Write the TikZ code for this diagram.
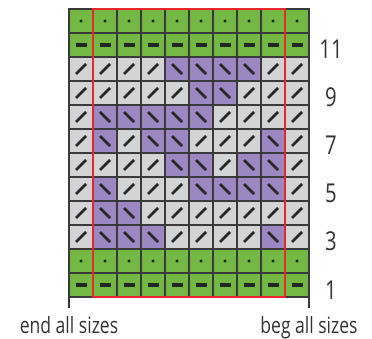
\documentclass[tikz,border=0pt]{standalone}
\usepackage{fontspec}
\setmainfont{Open Sans}[FakeStretch=0.78]
\usetikzlibrary{positioning}
\definecolor{knitgreen}{HTML}{72B843}
\definecolor{knitgray}{HTML}{D1D3D4}
\definecolor{knitpurple}{HTML}{9B87C1}
\definecolor{gridline}{HTML}{3A3A3A}
\definecolor{repred}{HTML}{E8262B}
\definecolor{labeltext}{HTML}{333333}

\begin{document}
\begin{tikzpicture}[x=1pt, y=-1pt,
    cell/.style={draw=gridline, line width=1.4pt, minimum size=24pt, inner sep=0pt, outer sep=0pt},
    stitch/.style={line width=2.6pt, black!85},
    purl/.style={line width=3.2pt, black!85},
    reprect/.style={draw=repred, line width=2.6pt},
    tick/.style={draw=gridline, line width=1.1pt},
    rownum/.style={text=labeltext, font=\fontsize{26}{26}\selectfont, inner sep=0pt, anchor=base},
    sizelabel/.style={text=labeltext, font=\fontsize{22.5}{24}\selectfont, inner sep=0pt}
]
\useasboundingbox (0,0) rectangle (372,339);

% green border rows
\foreach \r in {2,12} {
  \foreach \c in {1,...,10} {
    \node[cell, fill=knitgreen] (c-\r-\c) at ({57+24*\c}, {309-24*\r}) {};
    \fill[black!85] (c-\r-\c.center) circle (1.7);
  }
}
\foreach \r in {1,11} {
  \foreach \c in {1,...,10} {
    \node[cell, fill=knitgreen] (c-\r-\c) at ({57+24*\c}, {309-24*\r}) {};
    \draw[purl] (c-\r-\c.center) ++(-5.5,0) -- ++(11,0);
  }
}

% motif rows, 1 = purple
\foreach \r/\pat in {10/{0,0,0,0,1,1,1,1,0,0},
                     9/{0,0,0,0,0,1,1,0,0,0},
                     8/{0,1,1,1,1,1,0,0,0,0},
                     7/{0,1,0,1,1,0,0,0,1,0},
                     6/{0,0,0,0,1,1,0,1,1,0},
                     5/{0,1,0,0,0,1,1,1,1,0},
                     4/{0,1,1,0,0,0,0,0,0,0},
                     3/{0,1,1,1,0,0,0,0,1,0}} {
  \foreach \p [count=\c] in \pat {
    \ifnum\p=1
      \node[cell, fill=knitpurple] (c-\r-\c) at ({57+24*\c}, {309-24*\r}) {};
      \draw[stitch] (c-\r-\c.center) ++(-5,-5) -- ++(10,10);
    \else
      \node[cell, fill=knitgray] (c-\r-\c) at ({57+24*\c}, {309-24*\r}) {};
      \draw[stitch] (c-\r-\c.center) ++(-5,5) -- ++(10,-10);
    \fi
  }
}

% repeat box
\draw[reprect] (c-12-2.north west) rectangle (c-1-9.south east);

% row numbers
\foreach \r in {1,3,5,7,9,11}
  \node[rownum] (num-\r) at (331, {299-24*(\r-1)}) {\r};

% size marks
\draw[tick] (c-1-1.south west) -- ++(0,11) coordinate (endtick);
\draw[tick] (c-1-10.south east) -- ++(0,11) coordinate (begtick);
\node[sizelabel, below=8pt of endtick] (endlbl) {end all sizes};
\node[sizelabel, below=8pt of begtick] (beglbl) {beg all sizes};
\end{tikzpicture}
\end{document}
